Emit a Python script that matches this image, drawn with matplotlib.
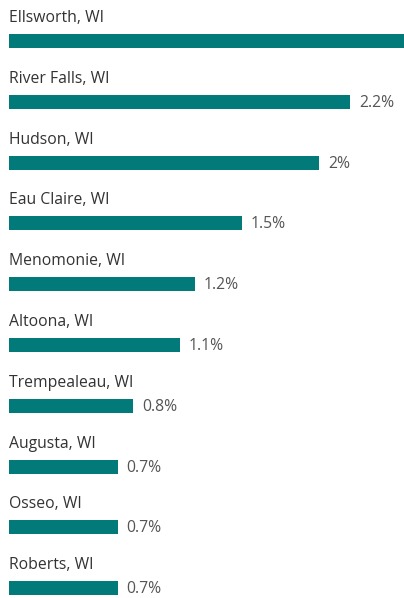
import matplotlib
matplotlib.use("Agg")
import matplotlib.pyplot as plt

cities = ["Ellsworth, WI", "River Falls, WI", "Hudson, WI", "Eau Claire, WI",
          "Menomonie, WI", "Altoona, WI", "Trempealeau, WI", "Augusta, WI",
          "Osseo, WI", "Roberts, WI"]
values = [2.9, 2.2, 2.0, 1.5, 1.2, 1.1, 0.8, 0.7, 0.7, 0.7]
value_labels = ["2.9%", "2.2%", "2%", "1.5%", "1.2%", "1.1%", "0.8%", "0.7%", "0.7%", "0.7%"]

W, H = 404, 598
fig = plt.figure(figsize=(W / 100, H / 100), dpi=100)
ax = fig.add_axes([0, 0, 1, 1])

px_per_unit_x = 155.0
x0_px = 9.0
row_px = 60.8
first_px = 41.0

xmax = (W - x0_px) / px_per_unit_x
ax.set_xlim(-x0_px / px_per_unit_x, xmax)
ax.set_ylim(9 + (H - (first_px + 9 * row_px)) / row_px, -first_px / row_px)
ax.axis("off")

bar_color = "#037A7A"
font = ["Open Sans", "DejaVu Sans"]
ys = list(range(len(cities)))
ax.barh(ys, values, height=14 / row_px, color=bar_color, left=0)

for y, c, v, lab in zip(ys, cities, values, value_labels):
    ax.text(0, y - 23 / row_px, c, ha="left", va="center", fontsize=11.3,
            color="#333333", family=font)
    lx = v + 9 / px_per_unit_x
    if lx < xmax:  # labels past the visible range are not shown (as in the reference)
        ax.text(lx, y + 1 / row_px, lab, ha="left", va="center",
                fontsize=11.3, color="#555555", family=font)

fig.savefig("out.png", dpi=100)
